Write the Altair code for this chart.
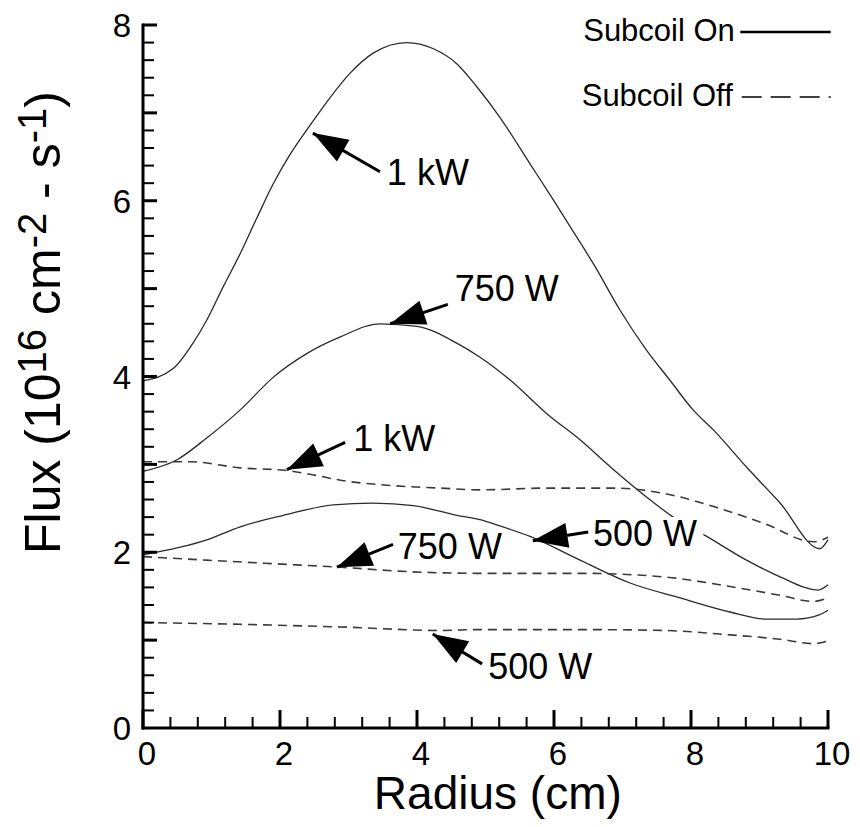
import math
import altair as alt
import pandas as pd

FONT = "Liberation Sans"
W, H = 685, 703          # plot area in px
X_MAX, Y_MAX = 10, 8

# ---------------- curve data ----------------
r_on_1kw = [0, 0.44, 0.73, 0.93, 1.17, 1.42, 1.66, 1.90, 2.15, 2.44, 2.68, 3.02, 3.36, 3.85,
            4.24, 4.58, 4.87, 5.21, 5.65, 5.99, 6.33, 6.60, 6.96, 7.35, 7.69, 8.03, 8.33,
            8.81, 9.30, 9.88, 10.0]
f_on_1kw = [3.95, 4.09, 4.38, 4.64, 5.02, 5.40, 5.80, 6.19, 6.53, 6.86, 7.12, 7.45, 7.68, 7.80,
            7.73, 7.56, 7.30, 6.95, 6.42, 6.01, 5.59, 5.25, 4.76, 4.30, 3.96, 3.62, 3.39,
            2.97, 2.56, 2.04, 2.14]

r_on_750 = [0, 0.49, 0.93, 1.42, 1.90, 2.39, 2.88, 3.46, 4.0, 4.58, 4.92, 5.36, 5.89, 6.38,
            6.87, 7.35, 7.74, 8.23, 8.81, 9.30, 9.86, 10.0]
f_on_750 = [2.92, 3.05, 3.30, 3.62, 3.99, 4.26, 4.45, 4.60, 4.57, 4.38, 4.22, 3.96, 3.58, 3.28,
            2.94, 2.63, 2.40, 2.18, 1.91, 1.72, 1.57, 1.63]

r_on_500 = [0, 0.93, 1.42, 2.05, 2.78, 3.36, 3.95, 4.58, 4.92, 5.21, 5.65, 6.38, 7.11, 7.84,
            8.57, 9.10, 9.54, 9.88, 10.0]
f_on_500 = [1.97, 2.14, 2.29, 2.42, 2.54, 2.56, 2.53, 2.42, 2.37, 2.30, 2.18, 1.91, 1.65, 1.48,
            1.32, 1.24, 1.24, 1.29, 1.34]

r_off_1kw = [0, 0.69, 1.42, 2.10, 2.49, 2.88, 3.61, 4.34, 4.92, 5.89, 6.87, 7.60, 8.33, 9.06,
             9.79, 10.0]
f_off_1kw = [3.03, 3.03, 2.96, 2.93, 2.88, 2.82, 2.76, 2.73, 2.71, 2.73, 2.73, 2.67, 2.52, 2.33,
             2.12, 2.17]

r_off_750 = [0, 0.93, 1.90, 2.88, 3.85, 4.92, 6.38, 7.60, 8.57, 9.30, 9.79, 10.0]
f_off_750 = [1.95, 1.91, 1.87, 1.83, 1.78, 1.76, 1.76, 1.72, 1.61, 1.51, 1.44, 1.48]

r_off_500 = [0, 1.42, 2.88, 4.34, 4.92, 6.38, 7.60, 8.57, 9.30, 9.79, 10.0]
f_off_500 = [1.20, 1.18, 1.15, 1.11, 1.12, 1.12, 1.11, 1.06, 1.01, 0.96, 0.99]

# ---------------- annotations ----------------
ann_labels = ["1 kW", "750 W", "1 kW", "750 W", "500 W", "500 W"]
ann_tip_r = [2.48, 3.61, 2.10, 2.83, 4.23, 5.69]
ann_tip_f = [6.77, 4.60, 2.94, 1.83, 1.07, 2.13]
ann_tail_r = [3.46, 4.45, 2.95, 3.65, 4.95, 6.50]
ann_tail_f = [6.33, 4.82, 3.25, 2.09, 0.73, 2.23]
ann_text_r = [3.56, 4.55, 3.07, 3.72, 5.04, 6.57]
ann_text_f = [6.30, 4.98, 3.28, 2.05, 0.68, 2.20]

# ---------------- axes ----------------
x_labels = [0, 2, 4, 6, 8, 10]
y_labels = [0, 2, 4, 6, 8]
x_major = [0, 2, 4, 6, 8, 10]
x_minor = [0.4, 0.8, 1.2, 1.6, 2.4, 2.8, 3.2, 3.6, 4.4, 4.8, 5.2, 5.6, 6.4, 6.8, 7.2, 7.6,
           8.4, 8.8, 9.2, 9.6]
y_major = [1, 2, 3, 4, 5, 6, 7, 8]
y_minor = [0.2, 0.4, 0.6, 0.8, 1.2, 1.4, 1.6, 1.8, 2.2, 2.4, 2.6, 2.8, 3.2, 3.4, 3.6, 3.8,
           4.2, 4.4, 4.6, 4.8, 5.2, 5.4, 5.6, 5.8, 6.2, 6.4, 6.6, 6.8, 7.2, 7.4, 7.6, 7.8]
x_title = "Radius (cm)"

legend_labels = ["Subcoil On", "Subcoil Off"]

# ---------------- build tables ----------------
series = [
    ("on_1kw", "on", r_on_1kw, f_on_1kw),
    ("on_750", "on", r_on_750, f_on_750),
    ("on_500", "on", r_on_500, f_on_500),
    ("off_1kw", "off", r_off_1kw, f_off_1kw),
    ("off_750", "off", r_off_750, f_off_750),
    ("off_500", "off", r_off_500, f_off_500),
]
rows = []
for name, kind, rs, fs in series:
    for i, (a, b) in enumerate(zip(rs, fs)):
        rows.append(dict(series=name, kind=kind, r=a, f=b, order=i))
curves = pd.DataFrame(rows)

px_x = W / X_MAX
px_y = H / Y_MAX
angles = []
for tr, tf, ar, af in zip(ann_tip_r, ann_tip_f, ann_tail_r, ann_tail_f):
    dx = (tr - ar) * px_x
    dy = -(tf - af) * px_y
    angles.append(math.degrees(math.atan2(dx, -dy)) % 360)
ann = pd.DataFrame(dict(label=ann_labels, tip_r=ann_tip_r, tip_f=ann_tip_f,
                        tail_r=ann_tail_r, tail_f=ann_tail_f,
                        text_r=ann_text_r, text_f=ann_text_f, ang=angles))

xs = alt.Scale(domain=[0, X_MAX], nice=False, zero=False)
ys = alt.Scale(domain=[0, Y_MAX], nice=False, zero=False)


def X(field):
    return alt.X(field, scale=xs, axis=None)


def Y(field):
    return alt.Y(field, scale=ys, axis=None)


solid = alt.Chart(curves).transform_filter("datum.kind == 'on'").mark_line(
    color="#2a2a2a", strokeWidth=1.3, interpolate="monotone"
).encode(x=X("r:Q"), y=Y("f:Q"), detail="series:N", order="order:Q")

dashed = alt.Chart(curves).transform_filter("datum.kind == 'off'").mark_line(
    color="#3a3a3a", strokeWidth=1.6, strokeDash=[9, 6], interpolate="monotone"
).encode(x=X("r:Q"), y=Y("f:Q"), detail="series:N", order="order:Q")

# axis lines
x_dom = alt.Chart(pd.DataFrame({"a": [0], "b": [X_MAX], "z": [0]})).mark_rule(
    color="black", strokeWidth=3, strokeCap="square").encode(x=X("a:Q"), x2="b:Q", y=Y("z:Q"))
y_dom = alt.Chart(pd.DataFrame({"a": [0], "b": [Y_MAX], "z": [0]})).mark_rule(
    color="black", strokeWidth=3, strokeCap="square").encode(y=Y("a:Q"), y2="b:Q", x=X("z:Q"))

# ticks pointing inward
xt_major = alt.Chart(pd.DataFrame({"v": x_major})).mark_rule(color="black", strokeWidth=3).encode(
    x=X("v:Q"), y=alt.value(H), y2=alt.value(H - 18))
xt_minor = alt.Chart(pd.DataFrame({"v": x_minor})).mark_rule(color="black", strokeWidth=2).encode(
    x=X("v:Q"), y=alt.value(H), y2=alt.value(H - 11))
yt_major = alt.Chart(pd.DataFrame({"v": y_major})).mark_rule(color="black", strokeWidth=3).encode(
    y=Y("v:Q"), x=alt.value(0), x2=alt.value(14))
yt_minor = alt.Chart(pd.DataFrame({"v": y_minor})).mark_rule(color="black", strokeWidth=2).encode(
    y=Y("v:Q"), x=alt.value(0), x2=alt.value(11))

# tick labels
x_lab = alt.Chart(pd.DataFrame({"v": x_labels, "t": [str(v) for v in x_labels]})).mark_text(
    font=FONT, fontSize=33, color="black", align="center", baseline="alphabetic", dx=4
).encode(x=X("v:Q"), y=alt.value(H + 37), text="t:N")
y_lab = alt.Chart(pd.DataFrame({"v": y_labels, "t": [str(v) for v in y_labels]})).mark_text(
    font=FONT, fontSize=33, color="black", align="right", baseline="alphabetic", dy=12
).encode(y=Y("v:Q"), x=alt.value(-12), text="t:N")

x_ttl = alt.Chart(pd.DataFrame({"t": [x_title], "v": [5.18]})).mark_text(
    font=FONT, fontSize=46, color="black", align="center", baseline="alphabetic"
).encode(x=X("v:Q"), y=alt.value(H + 81), text="t:N")

# white box behind the solid "500 W" label (it interrupts the 750 W curve)
box = alt.Chart(pd.DataFrame({"r1": [6.55], "r2": [8.18], "f1": [2.02], "f2": [2.40]})).mark_rect(
    color="white").encode(x=X("r1:Q"), x2="r2:Q", y=Y("f1:Q"), y2="f2:Q")

arrow_lines = alt.Chart(ann).mark_rule(color="black", strokeWidth=3).encode(
    x=X("tail_r:Q"), y=Y("tail_f:Q"), x2="tip_r:Q", y2="tip_f:Q")
arrow_heads = alt.Chart(ann).mark_point(
    shape="M0,0L0.72,2L-0.72,2Z", filled=True, color="black", opacity=1, size=1225,
    strokeWidth=0
).encode(x=X("tip_r:Q"), y=Y("tip_f:Q"), angle=alt.Angle("ang:Q", scale=None))
arrow_text = alt.Chart(ann).mark_text(
    font=FONT, fontSize=36, color="black", align="left", baseline="middle"
).encode(x=X("text_r:Q"), y=Y("text_f:Q"), text="label:N")

# legend
leg = pd.DataFrame({"label": legend_labels, "tr": [8.64, 8.61], "lr1": [8.72, 8.74],
                    "lr2": [10.04, 10.04], "lf": [7.92, 7.18]})
leg_text = alt.Chart(leg).mark_text(font=FONT, fontSize=31, color="black", align="right",
                                    baseline="middle").encode(
    x=X("tr:Q"), y=Y("lf:Q"), text="label:N")
leg_on = alt.Chart(leg.iloc[[0]]).mark_rule(color="black", strokeWidth=2.5).encode(
    x=X("lr1:Q"), x2="lr2:Q", y=Y("lf:Q"))
leg_off = alt.Chart(leg.iloc[[1]]).mark_rule(color="black", strokeWidth=1.5,
                                             strokeDash=[20, 9]).encode(
    x=X("lr1:Q"), x2="lr2:Q", y=Y("lf:Q"))

# y-axis title with superscripts, built from pieces (gap = leading space in main font)
MAIN, SUP, RISE = 50, 40, 14
title_pieces = [("Flux (10", MAIN, 0, 0), ("16", SUP, RISE, 0), ("cm", MAIN, 0, 1),
                ("-2", SUP, RISE, 0), ("-", MAIN, 0, 1), ("s", MAIN, 0, 1),
                ("-1", SUP, RISE, 0), (")", MAIN, 0, 0)]
char_w = {"F": .611, "l": .222, "u": .556, "x": .5, " ": .278, "(": .333, ")": .333,
          "0": .556, "1": .556, "2": .556, "6": .556, "c": .5, "m": .833, "-": .333, "s": .5}
title_layers = []
pos = 529.0
base_x = -83
for txt, fs, rise, gap in title_pieces:
    pos -= gap * char_w[" "] * MAIN
    title_layers.append(
        alt.Chart(pd.DataFrame({"t": [txt]})).mark_text(
            font=FONT, fontSize=fs, color="black", angle=270, align="left",
            baseline="alphabetic").encode(
            x=alt.value(base_x - rise), y=alt.value(pos), text="t:N"))
    pos -= sum(char_w[c] for c in txt) * fs

chart = alt.layer(
    solid, dashed, box, xt_major, xt_minor, yt_major, yt_minor, x_dom, y_dom,
    x_lab, y_lab, x_ttl,
    arrow_lines, arrow_heads, arrow_text, leg_text, leg_on, leg_off, *title_layers
).properties(
    width=W, height=H,
    padding={"left": 135, "top": 17, "right": 24, "bottom": 91},
    autosize=alt.AutoSizeParams(type="none"),
    background="white"
).configure_view(stroke=None)

chart.save("out.html", embed_options={"renderer": "svg", "actions": False})
